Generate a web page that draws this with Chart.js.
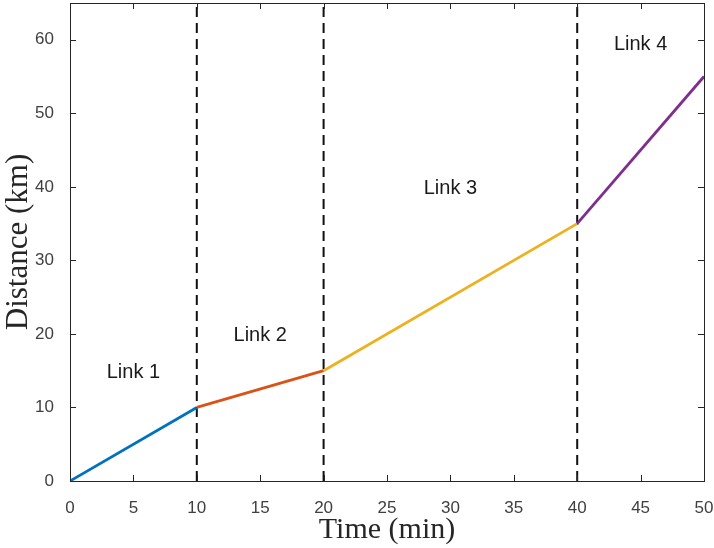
<!DOCTYPE html>
<html>
<head>
<meta charset="utf-8">
<script src="https://cdn.jsdelivr.net/npm/chart.js@4"></script>
<style>
  body { margin: 0; background: #fff; }
  #wrap { width: 714px; height: 548px; }
</style>
</head>
<body>
<div id="wrap"><canvas id="chart" width="714" height="548"></canvas></div>
<script>
// data
const timeMin = [0, 10, 20, 40, 50];
const distKm = [0, 10, 15, 35, 55];
const segColors = ['#0072BD', '#D95319', '#EDB120', '#7E2F8E'];
const boundaries = [10, 20, 40];
const linkLabels = ['Link 1', 'Link 2', 'Link 3', 'Link 4'];
const labelX = [5, 15, 30, 45];
const labelY = [14.8, 19.8, 39.8, 59.4];
const xTicks = [0, 5, 10, 15, 20, 25, 30, 35, 40, 45, 50];
const yTicks = [0, 10, 20, 30, 40, 50, 60];
const yMax = 65;

const axisColor = '#262626';

// dashed boundary lines, one dataset each
const dashSets = boundaries.map(b => ({
    data: [{x: b, y: 0}, {x: b, y: yMax}],
    borderColor: '#111',
    borderWidth: 2,
    borderDash: [10, 6],
    pointRadius: 0,
    order: 2
}));

// box + inward ticks like matlab
const boxPlugin = {
    id: 'box',
    afterDatasetsDraw(chart) {
        const {ctx, chartArea: a, scales: {x, y}} = chart;
        ctx.save();
        ctx.strokeStyle = axisColor;
        ctx.lineWidth = 1;
        ctx.strokeRect(a.left + 0.5, a.top + 0.5, a.right - a.left, a.bottom - a.top);
        ctx.beginPath();
        xTicks.forEach(v => {
            const px = Math.round(x.getPixelForValue(v)) + 0.5;
            ctx.moveTo(px, a.bottom); ctx.lineTo(px, a.bottom - 6);
            ctx.moveTo(px, a.top); ctx.lineTo(px, a.top + 6);
        });
        yTicks.forEach(v => {
            const py = Math.round(y.getPixelForValue(v)) + 0.5;
            ctx.moveTo(a.left, py); ctx.lineTo(a.left + 6, py);
            ctx.moveTo(a.right, py); ctx.lineTo(a.right - 6, py);
        });
        ctx.stroke();
        // link labels
        ctx.fillStyle = '#1a1a1a';
        ctx.font = '20px "Liberation Sans", Arial, sans-serif';
        ctx.textAlign = 'center';
        ctx.textBaseline = 'middle';
        linkLabels.forEach((t, i) => {
            ctx.fillText(t, x.getPixelForValue(labelX[i]), y.getPixelForValue(labelY[i]));
        });
        ctx.restore();
    }
};

new Chart(document.getElementById('chart'), {
    type: 'line',
    data: {
        datasets: [{
            data: timeMin.map((t, i) => ({x: t, y: distKm[i]})),
            borderWidth: 2.8,
            borderColor: segColors[0],
            pointRadius: 0,
            order: 1,
            segment: {
                borderColor: c => segColors[c.p0DataIndex]
            }
        }, ...dashSets]
    },
    options: {
        responsive: false,
        animation: false,
        layout: { padding: { top: 3, right: 10, left: 0, bottom: 0 } },
        plugins: { legend: { display: false }, tooltip: { enabled: false } },
        scales: {
            x: {
                type: 'linear',
                min: 0, max: 50,
                grid: { display: false },
                border: { display: false },
                afterBuildTicks: s => { s.ticks = xTicks.map(v => ({value: v})); },
                afterFit: s => { s.height = 67; s.paddingLeft = 0; s.paddingRight = 0; },
                ticks: {
                    color: '#404040',
                    padding: 9,
                    maxRotation: 0,
                    font: { family: '"Liberation Sans", Arial, sans-serif', size: 17 }
                },
                title: {
                    display: true,
                    text: 'Time (min)',
                    color: '#262626',
                    padding: { top: 0, bottom: 0 },
                    font: { family: '"Liberation Serif", "DejaVu Serif", serif', size: 30 }
                }
            },
            y: {
                type: 'linear',
                min: 0, max: yMax,
                grid: { display: false },
                border: { display: false },
                afterBuildTicks: s => { s.ticks = yTicks.map(v => ({value: v})); },
                afterFit: s => { s.width = 70; s.paddingTop = 0; s.paddingBottom = 0; },
                ticks: {
                    color: '#404040',
                    padding: 8,
                    font: { family: '"Liberation Sans", Arial, sans-serif', size: 17 }
                },
                title: {
                    display: true,
                    text: 'Distance (km)',
                    color: '#262626',
                    padding: { top: 0, bottom: 0 },
                    font: { family: '"Liberation Serif", "DejaVu Serif", serif', size: 31 }
                }
            }
        }
    },
    plugins: [boxPlugin]
});
</script>
</body>
</html>
